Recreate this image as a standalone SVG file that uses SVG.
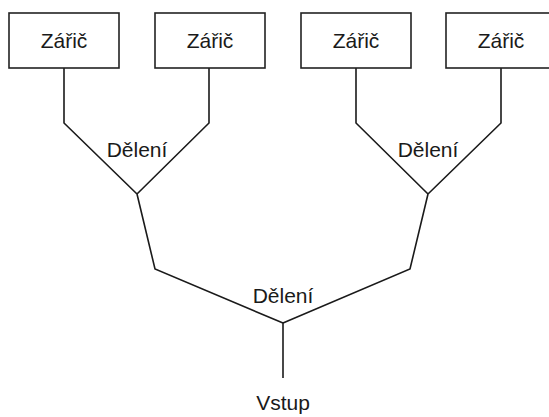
<svg xmlns="http://www.w3.org/2000/svg" width="549" height="417" viewBox="0 0 549 417">
<style>
.box{fill:#fff;stroke:#222;stroke-width:1.6}
.ln{fill:none;stroke:#1a1a1a;stroke-width:1.6;stroke-linejoin:miter}
text{font-family:"Liberation Sans",Arial,sans-serif;font-size:21px;fill:#1a1a1a;text-anchor:middle}
</style>
<rect width="549" height="417" fill="#fff"/>
<g id="connectors">
<polyline class="ln" points="64,68 64,123 137,194"/>
<polyline class="ln" points="209,68 209,123 137,194"/>
<polyline class="ln" points="356,68 356,123 428,194"/>
<polyline class="ln" points="501,68 501,123 428,194"/>
<polyline class="ln" points="137,194 155,269 283,323"/>
<polyline class="ln" points="428,194 410,269 283,323"/>
<line class="ln" x1="283" y1="323" x2="283" y2="378"/>
</g>
<g id="zaric1"><rect class="box" x="9" y="13" width="110" height="55"/><text x="64" y="48">Zářič</text></g>
<g id="zaric2"><rect class="box" x="155" y="13" width="110" height="55"/><text x="210" y="48">Zářič</text></g>
<g id="zaric3"><rect class="box" x="301" y="13" width="110" height="55"/><text x="356" y="48">Zářič</text></g>
<g id="zaric4"><rect class="box" x="446" y="13" width="110" height="55"/><text x="501" y="48">Zářič</text></g>
<g id="deleni1"><text x="137" y="157">Dělení</text></g>
<g id="deleni2"><text x="428" y="157">Dělení</text></g>
<g id="deleni3"><text x="283" y="303">Dělení</text></g>
<g id="vstup"><text x="283" y="410">Vstup</text></g>
</svg>
